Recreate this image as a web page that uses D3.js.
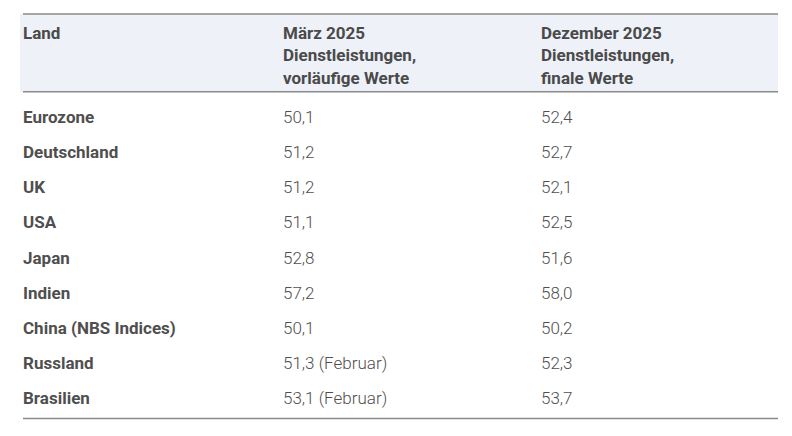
<!DOCTYPE html>
<html>
<head>
<meta charset="utf-8">
<script src="https://cdn.jsdelivr.net/npm/d3@7"></script>
<style>
  body { margin: 0; background: #fff; }
  svg { display: block; font-family: Roboto, "Noto Sans", sans-serif; }
  .head { font-weight: 700; fill: #4a4a4a; font-size: 17px; }
  .land { font-weight: 700; fill: #4f4f4f; font-size: 17px; }
  .val { font-weight: 300; fill: #4f4f4f; font-size: 17px; }
</style>
</head>
<body>
<div id="table"></div>
<script>
// table content
const columns = ["land", "maerz", "dezember"];
const headers = [
    ["Land"],
    ["März 2025", "Dienstleistungen,", "vorläufige Werte"],
    ["Dezember 2025", "Dienstleistungen,", "finale Werte"]
];
const countries = ["Eurozone", "Deutschland", "UK", "USA", "Japan", "Indien", "China (NBS Indices)", "Russland", "Brasilien"];
const maerzValues = ["50,1", "51,2", "51,2", "51,1", "52,8", "57,2", "50,1", "51,3 (Februar)", "53,1 (Februar)"];
const dezemberValues = ["52,4", "52,7", "52,1", "52,5", "51,6", "58,0", "50,2", "52,3", "53,7"];

const svgWidth = 792;
const svgHeight = 436;

const svg = d3.select("#table")
    .append("svg")
    .attr("width", svgWidth)
    .attr("height", svgHeight);

// column positions
const xCol = d3.scaleOrdinal()
    .domain(columns)
    .range([23, 283, 541]);

// row baselines
const yRow = d3.scalePoint()
    .domain(countries)
    .range([122.7, 404.3]);

// header line baselines
const yHead = d3.scaleLinear()
    .domain([0, 2])
    .range([38.5, 83.5]);

// header background
svg.append("rect")
    .attr("x", 20)
    .attr("y", 14)
    .attr("width", 758)
    .attr("height", 78)
    .attr("fill", "#eef1f8");

// rules
[14, 91.7, 418.5].forEach(y => {
    svg.append("line")
        .attr("x1", 23)
        .attr("x2", 778)
        .attr("y1", y)
        .attr("y2", y)
        .attr("stroke", "#8a8a8a")
        .attr("stroke-width", 1.5);
});

// header text
svg.selectAll("text.head")
    .data(headers)
    .enter()
    .append("text")
    .attr("class", "head")
    .attr("x", (d, i) => xCol(columns[i]))
    .each(function (lines) {
        d3.select(this).selectAll("tspan")
            .data(lines)
            .enter()
            .append("tspan")
            .attr("x", d3.select(this).attr("x"))
            .attr("y", (d, j) => yHead(j))
            .text(d => d);
    });

// body rows
const rows = countries.map((c, i) => ({ land: c, maerz: maerzValues[i], dezember: dezemberValues[i] }));

svg.selectAll("text.land")
    .data(rows)
    .enter()
    .append("text")
    .attr("class", "land")
    .attr("x", xCol("land"))
    .attr("y", d => yRow(d.land))
    .text(d => d.land);

svg.selectAll("text.maerz")
    .data(rows)
    .enter()
    .append("text")
    .attr("class", "val maerz")
    .attr("x", xCol("maerz"))
    .attr("y", d => yRow(d.land))
    .text(d => d.maerz);

svg.selectAll("text.dezember")
    .data(rows)
    .enter()
    .append("text")
    .attr("class", "val dezember")
    .attr("x", xCol("dezember"))
    .attr("y", d => yRow(d.land))
    .text(d => d.dezember);
</script>
</body>
</html>
